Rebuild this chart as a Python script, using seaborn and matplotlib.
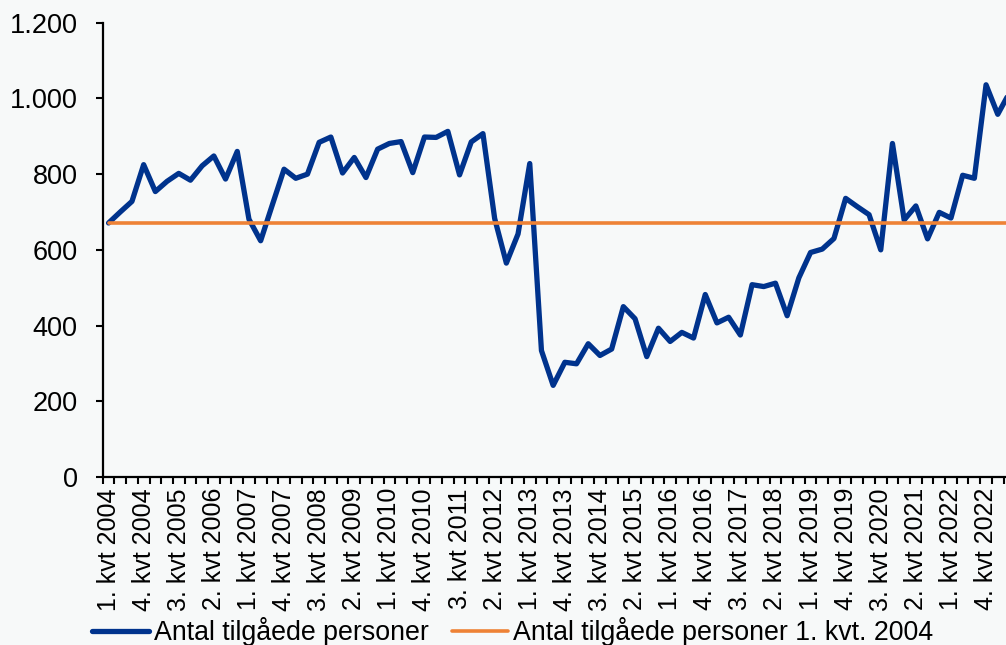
import numpy as np
import pandas as pd
import seaborn as sns
import matplotlib.pyplot as plt

# data: quarters from 1. kvt 2004 to 2. kvt 2023
start_year = 2004
antal = [671, 700, 728, 825, 754, 781, 802, 784, 822, 848, 787, 860,
         681, 624, 719, 813, 789, 800, 884, 898, 803, 844, 791, 866,
         881, 886, 804, 898, 897, 913, 798, 885, 907, 683, 565, 642,
         828, 334, 242, 303, 299, 352, 321, 338, 450, 418, 318, 393,
         358, 382, 367, 482, 407, 422, 375, 508, 503, 512, 426, 526,
         593, 602, 630, 736, 714, 693, 600, 881, 679, 716, 629, 699,
         684, 797, 789, 1036, 958, 1015]
y_ticks = [0, 200, 400, 600, 800, 1000, 1200]
y_labels = ["0", "200", "400", "600", "800", "1.000", "1.200"]
label_blue = "Antal tilgåede personer"
label_orange = "Antal tilgåede personer 1. kvt. 2004"

quarters = [f"{i % 4 + 1}. kvt {start_year + i // 4}" for i in range(len(antal))]
df = pd.DataFrame({"pos": np.arange(len(antal)), "antal": antal,
                   "basis": [antal[0]] * len(antal)})

sns.set_style("white")
plt.rcParams["font.family"] = ["Liberation Sans", "DejaVu Sans"]
plt.rcParams["text.color"] = "black"
plt.rcParams["xtick.color"] = "black"
plt.rcParams["ytick.color"] = "black"
bg = "#F7F9F9"
blue = "#00338D"
orange = "#EE8236"

fig = plt.figure(figsize=(10.06, 6.45), dpi=100, facecolor=bg)
# plot area runs a little past the right edge (cropped like the original)
ax = fig.add_axes([102.7 / 1006, 1 - 477 / 645, 912.6 / 1006, 454.3 / 645])
ax.set_facecolor(bg)

sns.lineplot(data=df, x="pos", y="antal", color=blue, linewidth=3.8,
             label=label_blue, ax=ax, legend=False, zorder=2)
sns.lineplot(data=df, x="pos", y="basis", color=orange, linewidth=2.6,
             label=label_orange, ax=ax, legend=False, zorder=3)

ax.set_xlim(-0.5, len(antal) - 0.5)
ax.set_ylim(0, 1200)
ax.set_yticks(y_ticks)
ax.set_yticklabels(y_labels, fontsize=19.5)
ax.tick_params(axis="y", direction="out", length=5, width=1.5, pad=13, left=True)

major = list(range(0, len(antal), 3))
ax.set_xticks(major)
ax.set_xticklabels([quarters[i] for i in major], rotation=90, fontsize=18)
ax.set_xticks(np.arange(len(antal) + 1) - 0.5, minor=True)
ax.tick_params(axis="x", which="major", length=0, pad=8)
ax.tick_params(axis="x", which="minor", direction="out", length=5, width=1.5, bottom=True)
ax.set_xlabel("")
ax.set_ylabel("")

for side in ["top", "right"]:
    ax.spines[side].set_visible(False)
for side in ["left", "bottom"]:
    ax.spines[side].set_color("black")
    ax.spines[side].set_linewidth(1.6)

handles, labels = ax.get_legend_handles_labels()
fig.legend(handles, labels, loc="center", bbox_to_anchor=(513 / 1006, 1 - 632 / 645),
           ncol=2, frameon=False, fontsize=19.3, handlelength=2.1, handletextpad=0.2,
           columnspacing=0.85, borderpad=0)

fig.savefig("out.png", dpi=100, facecolor=bg)
